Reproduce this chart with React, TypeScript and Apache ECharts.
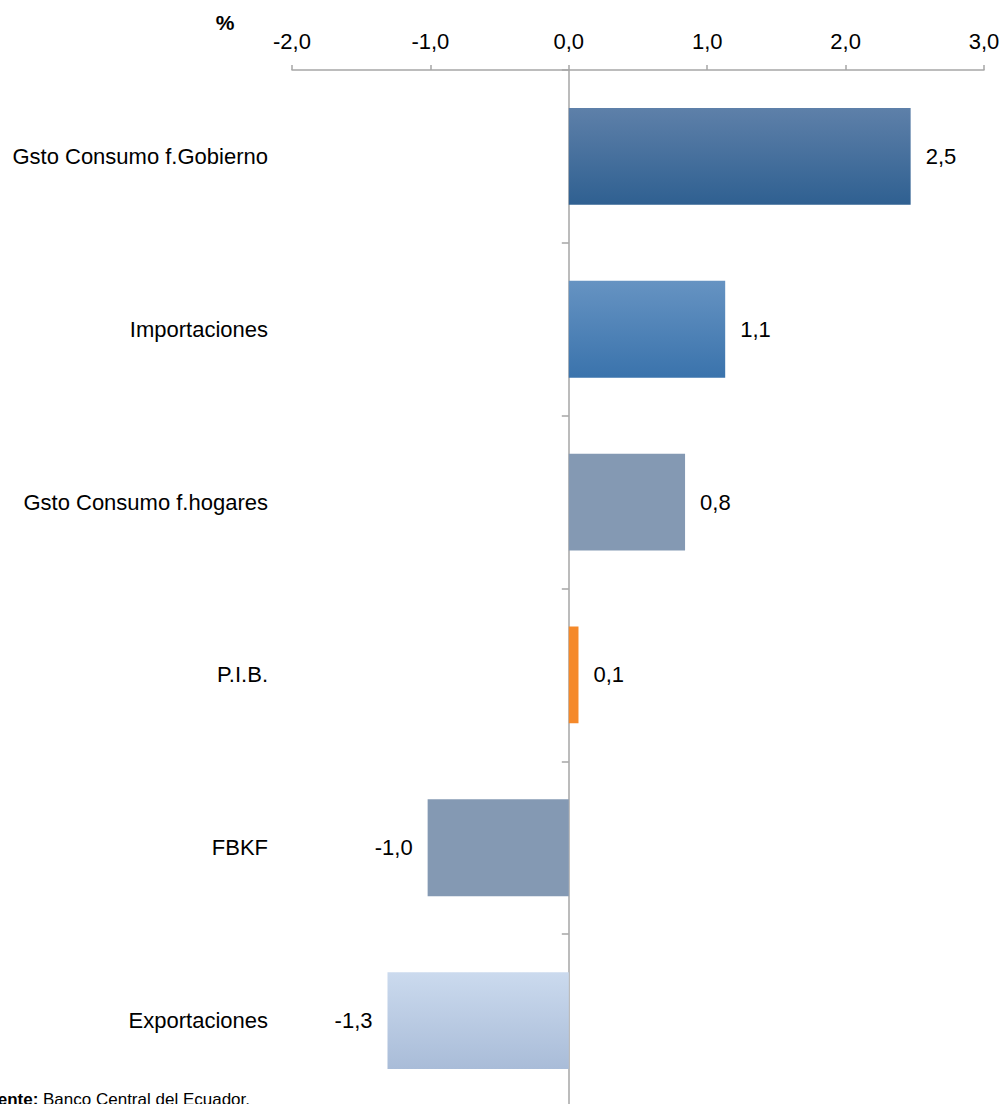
import React, { useEffect, useRef } from "react";
import * as echarts from "echarts";

const categories = [
  "Gsto Consumo f.Gobierno",
  "Importaciones",
  "Gsto Consumo f.hogares",
  "P.I.B.",
  "FBKF",
  "Exportaciones",
];
const values = [2.47, 1.13, 0.84, 0.07, -1.02, -1.31];
const xTicks = { min: -2, max: 3, interval: 1 };
const unitLabel = "%";
const sourceBold = "Fuente:";
const sourceText = " Banco Central del Ecuador.";

const FONT = "'Liberation Sans', Arial, sans-serif";

const barColors: [string, string][] = [
  ["#5e80a9", "#2f6091"],
  ["#6693c2", "#3a73ac"],
  ["#8499b3", "#8499b3"],
  ["#f5892a", "#f5892a"],
  ["#8499b3", "#8499b3"],
  ["#cbdaee", "#a9bcd8"],
];

const fmt = (v: number) => v.toFixed(1).replace(".", ",");

export default function App() {
  const ref = useRef<HTMLDivElement>(null);
  useEffect(() => {
    if (!ref.current) return;
    const chart = echarts.init(ref.current, null, { renderer: "svg" });
    const data = values.map((v, i) => ({
      value: v,
      itemStyle: {
        color: new echarts.graphic.LinearGradient(0, 0, 0, 1, [
          { offset: 0, color: barColors[i][0] },
          { offset: 1, color: barColors[i][1] },
        ]),
      },
      label: { position: v < 0 ? "left" : "right" },
    }));
    chart.setOption({
      animation: false,
      backgroundColor: "#ffffff",
      textStyle: { fontFamily: FONT },
      grid: {
        left: 292,
        right: 16,
        top: 70,
        height: 1037,
        containLabel: false,
        outerBoundsMode: "none",
      },
      xAxis: {
        type: "value",
        position: "top",
        min: xTicks.min,
        max: xTicks.max,
        interval: xTicks.interval,
        axisLine: { show: true, lineStyle: { color: "#a6a6a6", width: 1.5 } },
        axisTick: { show: true, length: 5, lineStyle: { color: "#a6a6a6", width: 1.5 } },
        splitLine: { show: false },
        axisLabel: {
          formatter: (v: number) => fmt(v),
          color: "#000",
          fontSize: 22,
          fontFamily: FONT,
          margin: 18,
        },
      },
      yAxis: [
        {
          type: "category",
          data: categories,
          inverse: true,
          position: "left",
          axisLine: { show: false, onZero: false },
          axisTick: { show: false },
          axisLabel: { color: "#000", fontSize: 22, fontFamily: FONT, margin: 24 },
        },
        {
          type: "category",
          data: categories,
          inverse: true,
          position: "left",
          axisLine: { show: true, onZero: true, onZeroAxisIndex: 0, lineStyle: { color: "#a6a6a6", width: 1.5 } },
          axisTick: { show: true, length: 7, lineStyle: { color: "#a6a6a6", width: 1.5 } },
          axisLabel: { show: false },
        },
      ],
      series: [
        {
          type: "bar",
          yAxisIndex: 0,
          data,
          barCategoryGap: "44%",
          label: {
            show: true,
            distance: 15,
            color: "#000",
            fontSize: 22,
            fontFamily: FONT,
            formatter: (p: any) => fmt(p.value),
          },
        },
      ],
      graphic: [
        {
          type: "text",
          x: 225,
          y: 22,
          style: {
            text: unitLabel,
            font: `bold 21px ${FONT}`,
            fill: "#000",
            textAlign: "center",
            textVerticalAlign: "middle",
          },
        },
        {
          type: "text",
          x: 250,
          y: 1099,
          style: {
            text: `{b|${sourceBold}}{r|${sourceText}}`,
            textAlign: "right",
            textVerticalAlign: "middle",
            rich: {
              b: { font: `bold 17px ${FONT}`, fill: "#000" },
              r: { font: `17px ${FONT}`, fill: "#000" },
            },
          },
        },
      ],
    });
    return () => chart.dispose();
  }, []);
  return (
    <div
      ref={ref}
      style={{ position: "fixed", left: 0, top: 0, width: 1000, height: 1104 }}
    />
  );
}
